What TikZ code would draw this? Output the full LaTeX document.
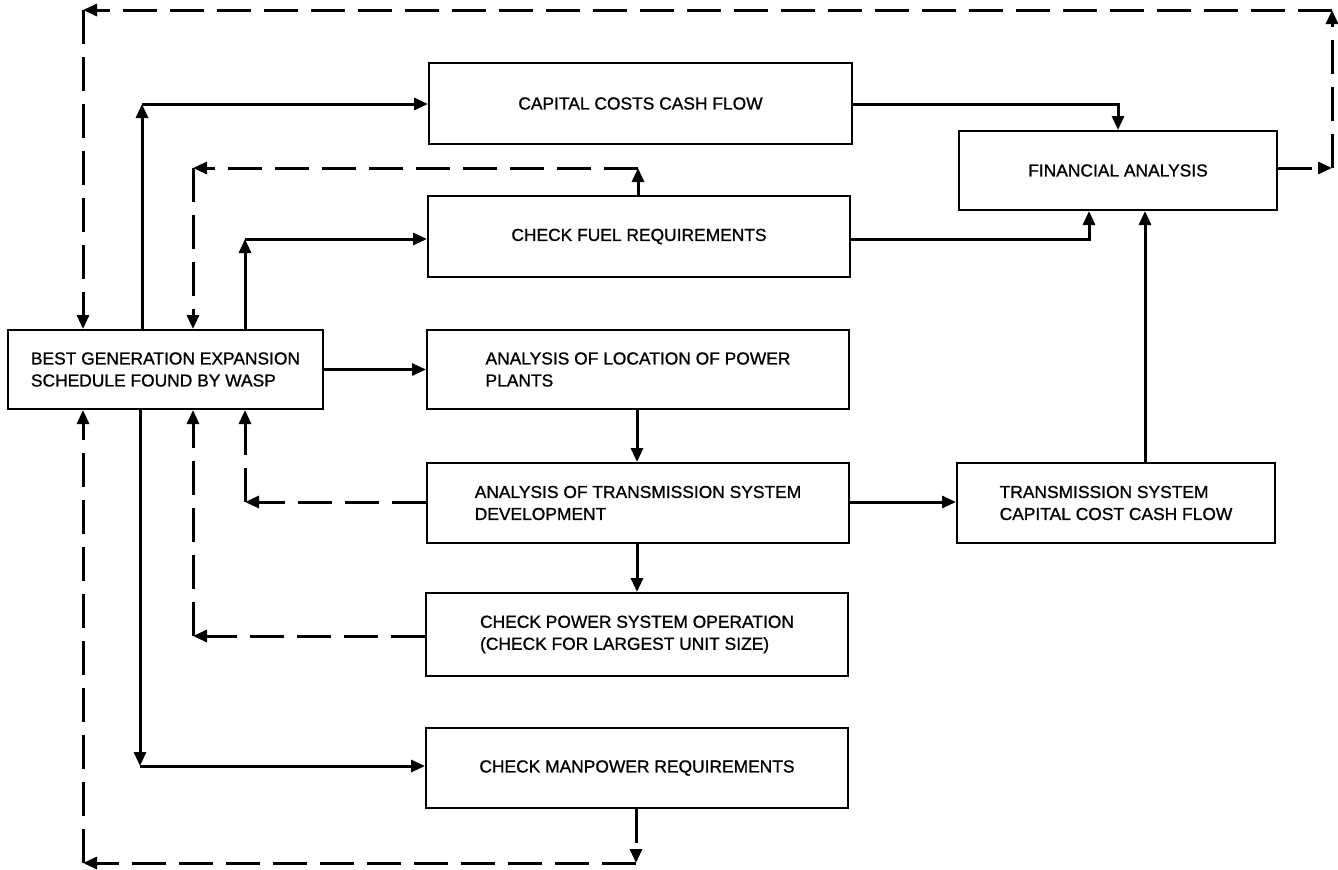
\documentclass[tikz,border=0pt]{standalone}
\usepackage{fontspec}
\setmainfont{Liberation Sans}[FakeBold=1.0]
\usetikzlibrary{arrows.meta}
\begin{document}
\begin{tikzpicture}[x=1bp,y=-1bp,
  box/.style={draw, line width=2bp, inner sep=0pt, align=left,
    font=\fontsize{17.4bp}{22bp}\selectfont},
  sol/.style={line width=3bp, -{Triangle[length=14bp,width=12bp]}},
  dsh/.style={sol, dash pattern=on 34bp off 13bp}]
\useasboundingbox (0,0) rectangle (1338,869);
% boxes
\node[box, minimum width=315bp, minimum height=79bp] (best) at (165.5,369.5)
  {BEST GENERATION EXPANSION\\SCHEDULE FOUND BY WASP};
\node[box, minimum width=423bp, minimum height=81bp] (cap) at (640.5,103.5)
  {CAPITAL COSTS CASH FLOW};
\node[box, minimum width=422bp, minimum height=81bp] (fuel) at (639,236.5)
  {CHECK FUEL REQUIREMENTS};
\node[box, minimum width=422bp, minimum height=79bp] (loc) at (638,369.5)
  {ANALYSIS OF LOCATION OF POWER\\PLANTS};
\node[box, minimum width=422bp, minimum height=80bp] (trans) at (638,503)
  {ANALYSIS OF TRANSMISSION SYSTEM\\DEVELOPMENT};
\node[box, minimum width=422bp, minimum height=83bp] (power) at (637,634.5)
  {CHECK POWER SYSTEM OPERATION\\(CHECK FOR LARGEST UNIT SIZE)};
\node[box, minimum width=422bp, minimum height=80bp] (man) at (637,768)
  {CHECK MANPOWER REQUIREMENTS};
\node[box, minimum width=318bp, minimum height=79bp] (fin) at (1118,170.5)
  {FINANCIAL ANALYSIS};
\node[box, minimum width=318bp, minimum height=80bp] (tsccf) at (1116,503)
  {TRANSMISSION SYSTEM\\CAPITAL COST CASH FLOW};
% corner coordinates
\coordinate (a1) at (142,104);
\coordinate (a2) at (245,239);
\coordinate (a3) at (638,168);
\coordinate (a4) at (193,168);
\coordinate (a5) at (245,502);
\coordinate (a6) at (193,636);
\coordinate (a7) at (140,766);
\coordinate (a8) at (636,863);
\coordinate (a9) at (83,863);
\coordinate (a10) at (1118,104);
\coordinate (a11) at (1089,239);
\coordinate (a12) at (1145,463);
\coordinate (b1) at (1332,168);
\coordinate (b2) at (1332,10);
\coordinate (b3) at (83,10);
% solid connectors
\draw[sol] (best.north -| a1) -- (a1);
\draw[sol] (a1) -- (cap.west |- a1);
\draw[sol] (best.north -| a2) -- (a2);
\draw[sol] (a2) -- (fuel.west |- a2);
\draw[sol] (best.east) -- (loc.west |- best.east);
\draw[sol] (loc.south -| 637,0) -- (trans.north -| 637,0);
\draw[sol] (trans.south -| 637,0) -- (power.north -| 637,0);
\draw[sol] (best.south -| a7) -- (a7);
\draw[sol] (a7) -- (man.west |- a7);
\draw[sol] (cap.east |- a10) -- (a10) -- (fin.north -| a10);
\draw[sol] (fuel.east |- a11) -- (a11) -- (fin.south -| a11);
\draw[sol] (tsccf.north -| a12) -- (fin.south -| a12);
\draw[sol] (trans.east |- 0,502) -- (tsccf.west |- 0,502);
% dashed feedback
\draw[dsh] (fuel.north -| a3) -- (a3);
\draw[dsh] (a3) -- (a4);
\draw[dsh] (a4) -- (best.north -| a4);
\draw[dsh] (trans.west |- a5) -- (a5);
\draw[dsh] (a5) -- (best.south -| a5);
\draw[dsh] (power.west |- a6) -- (a6);
\draw[dsh] (a6) -- (best.south -| a6);
\draw[dsh] (man.south -| a8) -- (a8);
\draw[dsh] (a8) -- (a9);
\draw[dsh] (a9) -- (best.south -| a9);
\draw[dsh] (fin.east |- b1) -- (b1);
\draw[dsh] (b1) -- (b2);
\draw[dsh] (b2) -- (b3);
\draw[dsh] (b3) -- (best.north -| b3);
\end{tikzpicture}
\end{document}
